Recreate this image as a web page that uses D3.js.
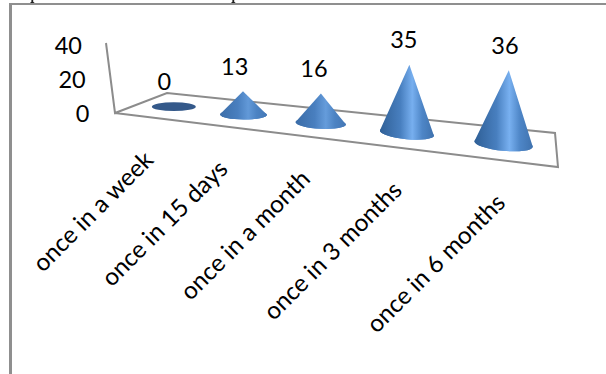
<!DOCTYPE html>
<html>
<head>
<meta charset="utf-8">
<script src="https://cdn.jsdelivr.net/npm/d3@7"></script>
<style>
  html, body { margin: 0; padding: 0; background: #fff; }
  svg { display: block; }
  text { fill: #000; font-family: Lato, sans-serif; }
</style>
</head>
<body>
<svg id="chart" width="606" height="374"></svg>
<script>
// Survey responses per visit frequency
const categories = ["once in a week", "once in 15 days", "once in a month", "once in 3 months", "once in 6 months"];
const values = [0, 13, 16, 35, 36];
const yTicks = [0, 20, 40];

const svg = d3.select("#chart");
const defs = svg.append("defs");

// Floor of the 3-D plot, as seen in perspective
const floor = {
  frontLeft: [115, 113], backLeft: [167, 93],
  backRight: [555, 133], frontRight: [558, 167]
};
const wallTop = [106, 43];
const depthWeight = 1.315;

// Position along the category axis, with perspective foreshortening
const band = d3.scaleBand().domain(categories).range([0, 1]);
const along = c => {
  const u = band(c) + band.bandwidth() / 2;
  return u / (u + depthWeight * (1 - u));
};

const midX = d3.scaleLinear().domain([0, 1]).range([141.5, 556.5]);
const midY = d3.scaleLinear().domain([0, 1]).range([103, 150]);
const radius = d3.scaleLinear().domain([0, 1]).range([21.2, 30.5]);
const ry = d3.scaleLinear().domain([0, 1]).range([4.2, 7.2]);
const unit = d3.scaleLinear().domain([0, 1]).range([1.68, 2.1]);
const lean = d3.scaleLinear().domain([0, 1]).range([-0.06, 0.09]);
const tilt = d3.scaleLinear().domain([0.2, 0.64]).range([0, 5.5]).clamp(true);
const frontX = d3.scaleLinear().domain([0, 1]).range([floor.frontLeft[0], floor.frontRight[0]]);
const frontY = d3.scaleLinear().domain([0, 1]).range([floor.frontLeft[1], floor.frontRight[1]]);
const contrast = d3.scaleLinear().domain([0, d3.max(values)]).range([0.25, 1]);

const rows = categories.map((c, i) => {
  const s = along(c);
  const h = values[i] * unit(s);
  return {
    category: c, value: values[i], i, s,
    cx: midX(s), cy: midY(s), r: radius(s), ry: ry(s), tilt: tilt(s), h,
    ax: midX(s) + lean(s) * h, ay: midY(s) - h
  };
});

// Outer frame
const frameColor = "#8f8f8f";
svg.append("line").attr("x1", 10.5).attr("x2", 606).attr("y1", 4).attr("y2", 4)
  .attr("stroke", frameColor).attr("stroke-width", 2);
svg.append("line").attr("x1", 10.5).attr("x2", 10.5).attr("y1", 3).attr("y2", 374)
  .attr("stroke", frameColor).attr("stroke-width", 3);

// Small stems poking down from the line of body text above the frame
svg.selectAll("path.stem").data([32.3, 233.3]).join("path")
  .attr("class", "stem")
  .attr("d", d => `M${d - 0.9},0L${d + 0.9},0L${d + 0.9},1.8L${d + 2.4},3L${d - 2.4},3L${d - 0.9},1.8Z`)
  .attr("fill", "#222");

// Floor outline and value-axis wall edge
const line = d3.line();
svg.append("path")
  .attr("d", line([wallTop, floor.frontLeft, floor.backLeft, floor.backRight, floor.frontRight, floor.frontLeft]))
  .attr("fill", "none").attr("stroke", "#8c8c8c").attr("stroke-width", 2);

// Value axis
const y = d3.scaleLinear().domain([0, 40]).range([0, -68]);
const leanX = d3.scaleLinear().domain([0, 40]).range([0, -7.5]);
const axisG = svg.append("g").attr("transform", "translate(89.5,114)")
  .call(d3.axisLeft(y).tickValues(yTicks).tickSize(0).tickPadding(0));
axisG.select(".domain").remove();
axisG.selectAll("text")
  .attr("x", d => leanX(d))
  .style("font-family", "Lato, sans-serif")
  .style("font-size", "23.5px")
  .attr("fill", "#000");

// Horizontal shading for the cones; short cones read flatter
const mix = (flat, shaded, k) => d3.interpolateRgb(flat, shaded)(k);
rows.forEach(d => {
  const k = contrast(d.value);
  const g = defs.append("linearGradient").attr("id", "cone" + d.i)
    .attr("x1", 0).attr("x2", 1).attr("y1", 0).attr("y2", 0);
  [[0, "#2f5f96"], [0.38, "#487fbf"], [0.6, "#78b0f0"], [0.78, "#4e86c7"], [1, "#3f72ae"]]
    .forEach(([o, col]) => g.append("stop").attr("offset", o).attr("stop-color", mix("#4a7fbe", col, k)));
});

// Cones: silhouette from apex down to the lower half of the tilted base ellipse
const coneG = svg.append("g");
const conePath = d => {
  const a = d.tilt * Math.PI / 180;
  const lx = d.cx - d.r * Math.cos(a), ly = d.cy - d.r * Math.sin(a);
  const rx = d.cx + d.r * Math.cos(a), ry2 = d.cy + d.r * Math.sin(a);
  return `M${d.ax},${d.ay}L${lx},${ly}A${d.r},${d.ry} ${d.tilt} 0 0 ${rx},${ry2}Z`;
};
coneG.selectAll("ellipse").data(rows).join("ellipse")
  .attr("rx", d => d.r).attr("ry", d => d.ry)
  .attr("transform", d => `translate(${d.cx},${d.cy}) rotate(${d.tilt})`)
  .attr("fill", d => d.value === 0 ? "#34598a" : `url(#cone${d.i})`);
coneG.selectAll("path").data(rows.filter(d => d.value > 0)).join("path")
  .attr("d", conePath)
  .attr("fill", d => `url(#cone${d.i})`);

// Value labels above each apex
const labelDx = d3.scaleLinear().domain([0, 1]).range([-10, -3]);
svg.selectAll("text.value").data(rows).join("text")
  .attr("class", "value")
  .attr("x", d => d.ax + labelDx(d.s))
  .attr("y", d => d.ay - 25)
  .attr("dy", "0.36em")
  .attr("text-anchor", "middle")
  .style("font-size", "23.5px")
  .text(d => d.value);

// Category labels, slanted up to the front edge of the floor
svg.selectAll("text.cat").data(rows).join("text")
  .attr("class", "cat")
  .attr("text-anchor", "end")
  .attr("dy", "0.36em")
  .attr("transform", d => `translate(${frontX(d.s) - 1},${frontY(d.s) + 38}) rotate(-45)`)
  .style("font-size", "24.3px")
  .text(d => d.category);
</script>
</body>
</html>
